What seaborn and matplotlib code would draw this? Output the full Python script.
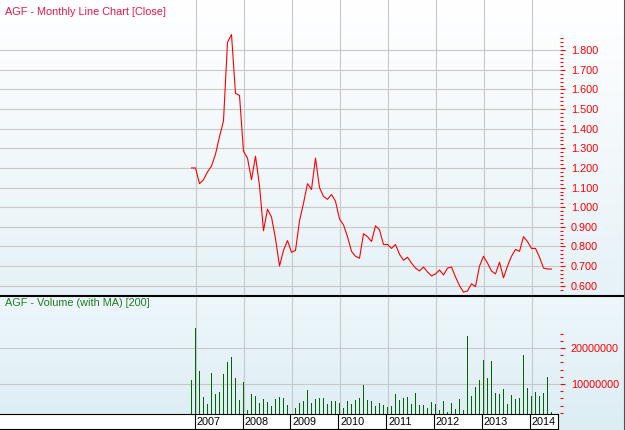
import numpy as np
import pandas as pd
import matplotlib
matplotlib.use('Agg')
import matplotlib.pyplot as plt
import seaborn as sns
from matplotlib.colors import LinearSegmentedColormap
from matplotlib.ticker import FixedLocator, FormatStrFormatter
from matplotlib.transforms import offset_copy
from matplotlib.lines import Line2D

# monthly data, Dec 2006 .. Jun 2014
months = pd.date_range('2006-12-01', '2014-06-01', freq='MS')
close = [1.20, 1.20, 1.12, 1.14, 1.18, 1.21, 1.27, 1.36, 1.44, 1.84,
         1.88, 1.58, 1.57, 1.285, 1.25, 1.14, 1.26, 1.11, 0.88, 0.99,
         0.95, 0.84, 0.70, 0.78, 0.83, 0.77, 0.78, 0.93, 1.02, 1.12,
         1.09, 1.25, 1.10, 1.055, 1.04, 1.065, 1.03, 0.94, 0.91, 0.85,
         0.775, 0.75, 0.74, 0.865, 0.85, 0.825, 0.905, 0.885, 0.81, 0.81,
         0.79, 0.81, 0.76, 0.73, 0.745, 0.715, 0.69, 0.675, 0.695, 0.67,
         0.65, 0.66, 0.68, 0.655, 0.69, 0.695, 0.645, 0.60, 0.567, 0.573,
         0.61, 0.595, 0.70, 0.75, 0.715, 0.675, 0.66, 0.72, 0.64, 0.70,
         0.75, 0.785, 0.775, 0.85, 0.825, 0.79, 0.79, 0.745, 0.69, 0.685,
         0.685]
volume_m = [11.2, 25.6, 13.5, 6.5, 4.5, 13.2, 7.3, 7.9, 12.9, 16.2,
            17.6, 11.8, 5.6, 10.6, 2.9, 7.3, 6.75, 4.8, 5.9, 5.1,
            4.0, 5.9, 6.5, 6.2, 4.3, 1.5, 3.4, 4.8, 5.4, 8.4,
            4.8, 5.9, 6.2, 6.2, 4.5, 5.4, 5.4, 4.8, 3.4, 5.4,
            4.5, 5.6, 6.2, 9.8, 5.6, 5.4, 4.0, 4.8, 4.3, 3.7,
            3.8, 7.3, 5.5, 6.2, 6.5, 4.5, 7.6, 4.25, 4.25, 3.4,
            5.1, 4.5, 2.9, 5.4, 2.3, 4.8, 3.1, 5.9, 2.9, 23.4,
            6.75, 9.25, 11.2, 16.75, 11.75, 16.5, 7.6, 7.3, 8.7, 4.5,
            7.0, 5.9, 6.2, 18.1, 9.0, 6.75, 7.9, 6.75, 7.6, 12.0,
            2.1]
years = list(range(2007, 2015))
price_ticks = [0.6, 0.7, 0.8, 0.9, 1.0, 1.1, 1.2, 1.3, 1.4, 1.5, 1.6, 1.7, 1.8]
vol_ticks = [10000000, 20000000]

df = pd.DataFrame({'m': (months.year - 2007) * 12 + months.month - 1,
                   'close': close,
                   'volume': np.array(volume_m) * 1e6})
year_m = [(y - 2007) * 12 for y in years]

plt.rcParams['font.family'] = ['Liberation Sans', 'DejaVu Sans']
FS = 7.8
W, H = 625, 430
fig = plt.figure(figsize=(W / 100, H / 100), dpi=100)

def fr(x0, y0, x1, y1):
    # pixel box -> figure fraction rect
    return [x0 / W, 1 - y1 / H, (x1 - x0) / W, (y1 - y0) / H]

grad = np.linspace(0, 1, 256).reshape(-1, 1)
bg1 = fig.add_axes(fr(0, 0, W, 296))
bg1.imshow(grad, aspect='auto', extent=[0, 1, 0, 1],
           cmap=LinearSegmentedColormap.from_list('g1', ['#ffffff', '#e6f2f7']))
bg1.axis('off')
bg2 = fig.add_axes(fr(0, 296, W, H))
bg2.imshow(grad, aspect='auto', extent=[0, 1, 0, 1],
           cmap=LinearSegmentedColormap.from_list('g2', ['#eef7fb', '#dcedf4']))
bg2.axis('off')

xl = (-195.5 / 4, (560 - 195.5) / 4)
grid_kw = dict(color='#c8c8c8', lw=0.8)

# price panel
ax1 = fig.add_axes(fr(0, 0, 560, 296))
ax1.set_facecolor('none')
sns.lineplot(data=df, x='m', y='close', ax=ax1, color='#ff0000', lw=0.8)
ax1.set_xlim(*xl)
ax1.set_ylim(0.5475, 2.056)
ax1.set_xticks(year_m)
ax1.tick_params(axis='x', length=0, labelbottom=False)
ax1.yaxis.tick_right()
ax1.set_yticks(price_ticks)
ax1.yaxis.set_minor_locator(FixedLocator(np.arange(0.58, 1.87, 0.02)))
ax1.yaxis.set_major_formatter(FormatStrFormatter('%.3f'))
ax1.tick_params(axis='y', which='major', colors='#ff0000', length=3.8,
                width=0.8, pad=4, labelsize=FS)
ax1.tick_params(axis='y', which='minor', colors='#ff0000', length=2.2, width=0.8)
ax1.grid(True, which='major', **grid_kw)
ax1.set_axisbelow(True)
ax1.set_xlabel('')
ax1.set_ylabel('')
for s in ax1.spines.values():
    s.set_visible(False)

# volume panel
ax2 = fig.add_axes(fr(0, 296, 560, 414))
ax2.set_facecolor('none')
sns.barplot(data=df, x='m', y='volume', ax=ax2, native_scale=True, width=0.25,
            color='#006400', saturation=1, errorbar=None, linewidth=0)
for p in ax2.patches:
    p.set_antialiased(False)
ax2.set_xlim(*xl)
ax2.set_ylim(1.67e6, 34.5e6)
ax2.set_xticks(year_m)
ax2.tick_params(axis='x', length=0, labelbottom=False)
ax2.yaxis.tick_right()
ax2.set_yticks(vol_ticks)
ax2.yaxis.set_minor_locator(FixedLocator(np.arange(2e6, 24.1e6, 2e6)))
ax2.yaxis.set_major_formatter(FormatStrFormatter('%d'))
ax2.tick_params(axis='y', which='major', colors='#ff0000', length=3.8,
                width=0.8, pad=4, labelsize=FS)
ax2.tick_params(axis='y', which='minor', colors='#ff0000', length=2.2, width=0.8)
ax2.grid(True, which='major', **grid_kw)
ax2.set_axisbelow(True)
ax2.set_xlabel('')
ax2.set_ylabel('')
for s in ax2.spines.values():
    s.set_visible(False)

# date strip
ax3 = fig.add_axes(fr(0, 414, 558, 429))
ax3.set_facecolor('white')
ax3.set_xlim(*xl)
ax3.set_ylim(0, 1)
ax3.set_xticks(year_m)
ax3.set_yticks([])
ax3.tick_params(axis='x', length=0, labelbottom=False)
ax3.grid(True, axis='x', color='black', lw=0.8)
ax3.spines['left'].set_visible(False)
for k in ['top', 'bottom', 'right']:
    ax3.spines[k].set_color('black')
    ax3.spines[k].set_linewidth(0.8)
tr = offset_copy(ax3.transData, fig=fig, x=2, y=0, units='dots')
for y, m in zip(years, year_m):
    ax3.text(m, 0.45, str(y), transform=tr, ha='left', va='center',
             fontsize=FS, color='black')

# frame lines and titles
fig.add_artist(Line2D([0, 1], [1 - 295.5 / H] * 2, transform=fig.transFigure,
                      color='black', lw=1.5))
fig.add_artist(Line2D([623.5 / W] * 2, [0, 1], transform=fig.transFigure,
                      color='#505050', lw=0.8))
fig.text(5 / W, 1 - 12 / H, 'AGF - Monthly Line Chart [Close]', fontsize=FS,
         color='#f01448', va='center', ha='left')
fig.text(5 / W, 1 - 302.5 / H, 'AGF - Volume (with MA) [200]', fontsize=FS,
         color='#1e7d1e', va='center', ha='left')

fig.savefig('out.png', dpi=100)
